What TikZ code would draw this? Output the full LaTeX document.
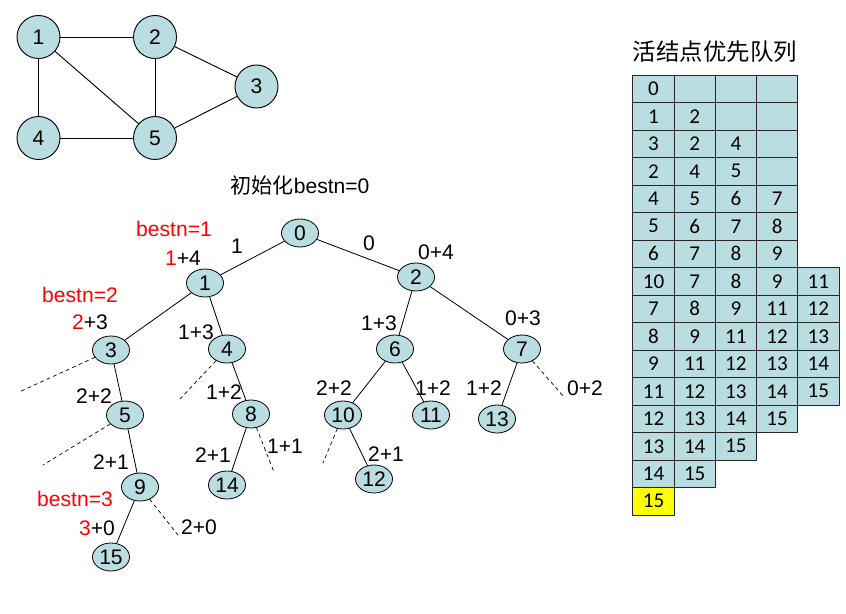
\documentclass[tikz,border=0pt]{standalone}
\usepackage{fontspec}
\setmainfont{Liberation Sans}
\newfontfamily\cjk{Noto Sans CJK SC}
\newfontfamily\calib{Carlito}
\usetikzlibrary{shapes.geometric}
\definecolor{nodefill}{RGB}{185,221,224}
\definecolor{qyellow}{RGB}{255,255,0}

\begin{document}
\begin{tikzpicture}[x=0.03cm, y=-0.03cm, line cap=round, line join=round,
	font=\fontsize{18}{20}\selectfont,
	gnode/.style={circle, draw, fill=nodefill, minimum size=1.29cm, inner sep=0pt, line width=0.8pt},
	tnode/.style={ellipse, draw, fill=nodefill, minimum width=1.11cm, minimum height=0.84cm, inner sep=0pt, line width=0.7pt},
	qcell/.style={rectangle, draw=black!85, fill=nodefill, minimum width=1.24cm, minimum height=0.825cm, inner sep=0pt, line width=0.7pt, font=\calib\fontsize{18}{20}\selectfont},
	cut/.style={line width=0.6pt, dash pattern=on 3pt off 3pt}]
	
	\useasboundingbox (0,0) rectangle (846,613);
	
	%========================
	% Top left: the graph
	%========================
	\node[gnode] (g1) at (38.5,37) {1};
	\node[gnode] (g2) at (155,37) {2};
	\node[gnode] (g3) at (256.5,86.5) {3};
	\node[gnode] (g4) at (38.5,138) {4};
	\node[gnode] (g5) at (155,138) {5};
	\draw[line width=0.8pt] (g1) -- (g2);
	\draw[line width=0.8pt] (g1) -- (g4);
	\draw[line width=0.8pt] (g1) -- (g5);
	\draw[line width=0.8pt] (g2) -- (g5);
	\draw[line width=0.8pt] (g2) -- (g3);
	\draw[line width=0.8pt] (g4) -- (g5);
	\draw[line width=0.8pt] (g3) -- (g5);
	
	%========================
	% Middle: search tree
	%========================
	\node (init) at (300,185) {{\cjk 初始化}bestn=0};
	
	% tree nodes
	\node[tnode] (n0) at (300,233) {0};
	\node[tnode] (n1) at (205,283) {1};
	\node[tnode] (n2) at (416,277) {2};
	\node[tnode] (n3) at (111,350) {3};
	\node[tnode] (n4) at (227,349) {4};
	\node[tnode] (n6) at (395,349) {6};
	\node[tnode] (n7) at (522,349) {7};
	\node[tnode] (n5) at (125,415) {5};
	\node[tnode] (n8) at (251,414) {8};
	\node[tnode] (n10) at (343,415) {10};
	\node[tnode] (n11) at (431,415) {11};
	\node[tnode] (n13) at (497,419) {13};
	\node[tnode] (n9) at (140,487) {9};
	\node[tnode] (n14) at (227,485) {14};
	\node[tnode] (n12) at (374,479) {12};
	\node[tnode] (n15) at (111,557) {15};
	
	% branches
	\draw[line width=0.7pt] (n0) -- (n1);
	\draw[line width=0.7pt] (n0) -- (n2);
	\draw[line width=0.7pt] (n1) -- (n3);
	\draw[line width=0.7pt] (n1) -- (n4);
	\draw[line width=0.7pt] (n2) -- (n6);
	\draw[line width=0.7pt] (n2) -- (n7);
	\draw[line width=0.7pt] (n3) -- (n5);
	\draw[line width=0.7pt] (n4) -- (n8);
	\draw[line width=0.7pt] (n6) -- (n10);
	\draw[line width=0.7pt] (n6) -- (n11);
	\draw[line width=0.7pt] (n7) -- (n13);
	\draw[line width=0.7pt] (n5) -- (n9);
	\draw[line width=0.7pt] (n8) -- (n14);
	\draw[line width=0.7pt] (n10) -- (n12);
	\draw[line width=0.7pt] (n9) -- (n15);
	
	% pruned branches (dashed)
	\coordinate (c3) at (19,392);
	\coordinate (c4) at (180,399);
	\coordinate (c5) at (43,465);
	\coordinate (c8) at (274,472);
	\coordinate (c10) at (323,463);
	\coordinate (c7) at (564,397);
	\coordinate (c9) at (178,535);
	\draw[cut] (n3) -- (c3);
	\draw[cut] (n4) -- (c4);
	\draw[cut] (n5) -- (c5);
	\draw[cut] (n8) -- (c8);
	\draw[cut] (n10) -- (c10);
	\draw[cut] (n7) -- (c7);
	\draw[cut] (n9) -- (c9);
	
	% bounds and best values
	\node[red] (b1) at (174,229) {bestn=1};
	\node (l1) at (183,258) {{\color{red}1}+4};
	\node (e1) at (237,246) {1};
	\node (e0) at (369,243) {0};
	\node (l2) at (436,252) {0+4};
	\node[red] (b2) at (80,295) {bestn=2};
	\node (l3) at (90,322) {{\color{red}2}+3};
	\node (l4) at (196,332) {1+3};
	\node (l6) at (379,323) {1+3};
	\node (l7) at (523,318) {0+3};
	\node (l5) at (94,396) {2+2};
	\node (l8) at (224,392) {1+2};
	\node (l10) at (334,388) {2+2};
	\node (l11) at (433,388) {1+2};
	\node (l13) at (484,388) {1+2};
	\node (l7r) at (585,388) {0+2};
	\node (l9) at (111,462) {2+1};
	\node (l14) at (213,455) {2+1};
	\node (l8r) at (285,446) {1+1};
	\node (l12) at (386,454) {2+1};
	\node[red] (b3) at (75,499) {bestn=3};
	\node (l15) at (97,528) {{\color{red}3}+0};
	\node (l9r) at (199,527) {2+0};
	
	%========================
	% Right: live node priority queue
	%========================
	\node[font=\cjk\fontsize{20}{22}\selectfont] (qtitle) at (715,52) {活结点优先队列};
	\foreach \cells [count=\r from 0] in {{0,{},{},{}}, {1,2,{},{}}, {3,2,4,{}}, {2,4,5,{}},
		{4,5,6,7}, {5,6,7,8}, {6,7,8,9}, {10,7,8,9,11}, {7,8,9,11,12}, {8,9,11,12,13},
		{9,11,12,13,14}, {11,12,13,14,15}, {12,13,14,15}, {13,14,15}, {14,15}}
	{
		\foreach \c [count=\k from 0] in \cells
		\node[qcell] (q\r-\k) at ({653.5+41.2*\k},{88.75+27.5*\r}) {\c};
	}
	\node[qcell, fill=qyellow] (q15-0) at (653.5,501.25) {15};
	
\end{tikzpicture}
\end{document}
